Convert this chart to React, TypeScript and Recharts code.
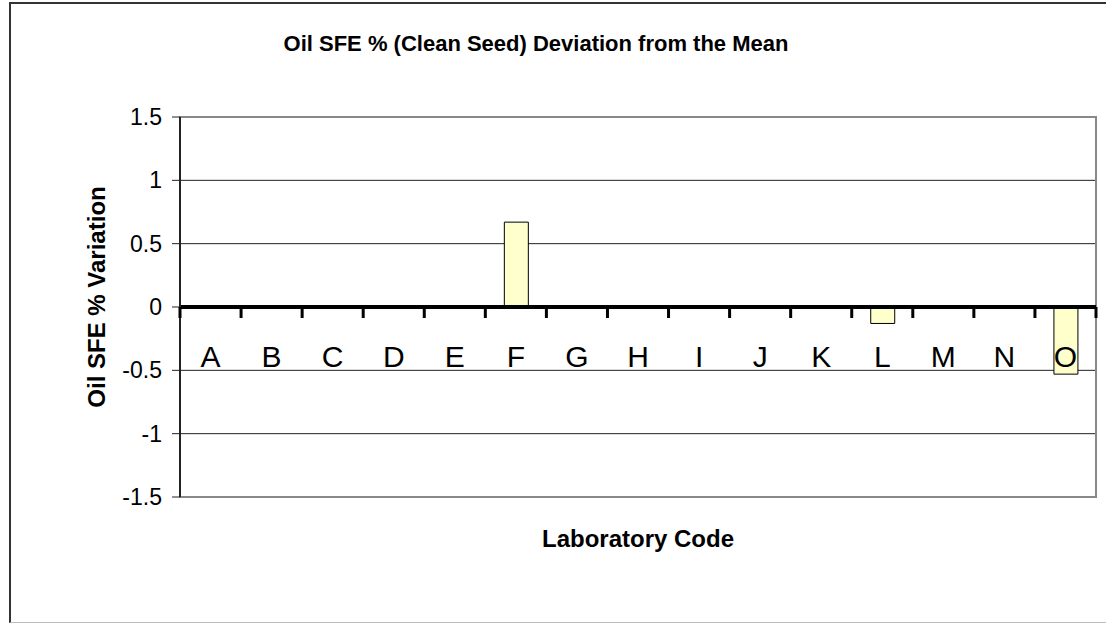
import { BarChart, Bar, XAxis, YAxis, CartesianGrid, ReferenceLine, ReferenceArea, Label } from "recharts";

const labCodes = ["A", "B", "C", "D", "E", "F", "G", "H", "I", "J", "K", "L", "M", "N", "O"];
const deviation = [0, 0, 0, 0, 0, 0.67, 0, 0, 0, 0, 0, -0.13, 0, 0, -0.53];
const yTicks = [-1.5, -1, -0.5, 0, 0.5, 1, 1.5];

const W = 1106;
const H = 623;
const margin = { top: 117, right: 10, bottom: 0, left: 0 };
const yAxisWidth = 180;
const xAxisHeight = 126;
const yMin = -1.5;
const yMax = 1.5;
const plotH = H - margin.top - margin.bottom - xAxisHeight;
const plotW = W - margin.left - margin.right - yAxisWidth;

const font = "Arial, 'Liberation Sans', Helvetica, sans-serif";

const data = labCodes.map((code, i) => ({ code, value: deviation[i] }));

function LabTick(props: any) {
    const { x, y, payload, index } = props;
    const half = payload && payload.offset ? payload.offset : plotW / labCodes.length / 2;
    // axis sits at zero, not at the bottom of the plot
    const zeroY = y - ((0 - yMin) / (yMax - yMin)) * plotH;
    return (
        <g>
            <line x1={x - half} x2={x - half} y1={zeroY} y2={zeroY + 11} stroke="#000" strokeWidth={3} />
            {index === labCodes.length - 1 && (
                <line x1={x + half} x2={x + half} y1={zeroY} y2={zeroY + 11} stroke="#000" strokeWidth={3} />
            )}
            <text x={x} y={zeroY + 60} textAnchor="middle" fontSize={30} fontFamily={font} fill="#000">
                {payload.value}
            </text>
        </g>
    );
}

export default function App() {
    return (
        <div style={{ position: "absolute", left: 0, top: 0, width: W, height: H, overflow: "hidden", background: "#fff", fontFamily: font }}>
            <div style={{ position: "absolute", left: 9, top: 2, width: 1110, height: 618, borderTop: "2px solid #333", borderLeft: "2px solid #333", borderBottom: "1px solid #bbb" }} />
            <div style={{ position: "absolute", left: 0, top: 33, width: 1072, textAlign: "center", fontSize: 22, lineHeight: "22px", fontWeight: "bold", color: "#000" }}>
                Oil SFE % (Clean Seed) Deviation from the Mean
            </div>
            <div style={{ position: "absolute", left: 0, top: 0 }}>
                <BarChart width={W} height={H} data={data} margin={margin}>
                    <CartesianGrid vertical={false} stroke="#222" strokeWidth={1} />
                    <ReferenceArea y1={yMin} y2={yMax} fill="none" stroke="#888" strokeWidth={2} />
                    <Bar dataKey="value" fill="#FFFFCC" stroke="#000" strokeWidth={1} barSize={24} isAnimationActive={false} />
                    <ReferenceLine y={0} stroke="#000" strokeWidth={4} />
                    <YAxis
                        width={yAxisWidth}
                        domain={[yMin, yMax]}
                        ticks={yTicks}
                        interval={0}
                        allowDataOverflow
                        axisLine={{ stroke: "#222", strokeWidth: 2 }}
                        tickLine={{ stroke: "#222" }}
                        tickSize={8}
                        tickMargin={10}
                        tick={{ fontSize: 23, fill: "#000", fontFamily: font }}
                    >
                        <Label
                            value="Oil SFE % Variation"
                            angle={-90}
                            position="center"
                            dx={6}
                            dy={-10}
                            style={{ fontSize: 24, fontWeight: "bold", fill: "#000", fontFamily: font }}
                        />
                    </YAxis>
                    <XAxis
                        dataKey="code"
                        height={xAxisHeight}
                        interval={0}
                        axisLine={false}
                        tickLine={false}
                        tickSize={0}
                        tickMargin={0}
                        tick={<LabTick />}
                    >
                        <Label
                            value="Laboratory Code"
                            position="insideTop"
                            offset={33}
                            style={{ fontSize: 24, fontWeight: "bold", fill: "#000", fontFamily: font }}
                        />
                    </XAxis>
                </BarChart>
            </div>
        </div>
    );
}
